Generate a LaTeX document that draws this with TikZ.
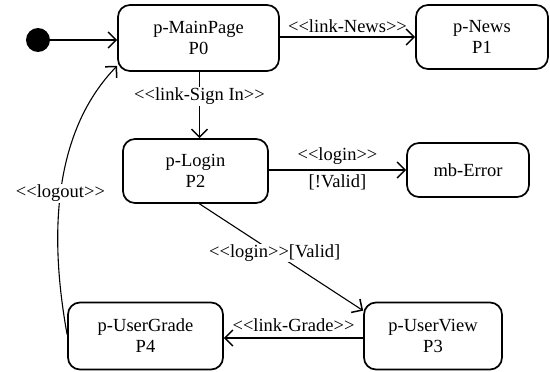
\documentclass[tikz,border=0pt]{standalone}
\usepackage{fontspec}
\setmainfont{Liberation Serif}[Ligatures=TeXOff]
\usetikzlibrary{arrows.meta,calc}
\begin{document}
\begin{tikzpicture}[x=1pt,y=-1pt,
  font=\fontsize{18.5}{21}\selectfont,
  state/.style={draw,line width=1.7pt,rounded corners=12pt,align=center,inner sep=0pt},
  conn/.style={line width=1.4pt,-{Straight Barb[length=8pt,width=16pt,line width=1.5pt]}},
  thinconn/.style={line width=1.1pt,-{Straight Barb[length=8pt,width=16pt,line width=1.5pt]}},
  lbl/.style={fill=white,inner sep=1pt}]
\useasboundingbox (0,0) rectangle (550,372);
\node[circle,fill=black,minimum size=24pt,inner sep=0pt] (dot) at (38,40) {};
\node[state,minimum width=161pt,minimum height=66pt] (p0) at (198.5,38) {p-MainPage\\P0};
\node[state,minimum width=132pt,minimum height=64pt] (p1) at (482,37) {p-News\\P1};
\node[state,minimum width=145pt,minimum height=64pt] (p2) at (195.5,171) {p-Login\\P2};
\node[state,minimum width=122pt,minimum height=54pt] (err) at (468,170) {mb-Error};
\node[state,minimum width=155pt,minimum height=67pt] (p4) at (145.5,336) {p-UserGrade\\P4};
\node[state,minimum width=138pt,minimum height=67pt] (p3) at (433,336) {p-UserView\\P3};

\draw[conn] (dot) -- (dot -| p0.west);
\draw[conn] (p0.east |- p1) -- (p1.west)
  node[midway,above=0pt] {<<link-News>>};
\draw[conn] ([xshift=1pt]p0.south) -- ([xshift=4pt]p2.north)
  node[lbl,pos=0.37] {<<link-Sign In>>};
\draw[conn] (p2.east |- err) -- (err.west)
  node[midway,above=1pt] {<<login>>}
  node[midway,below=1pt] {[!Valid]};
\draw[thinconn] ([xshift=4pt]p2.south) -- ($(p3.north west)+(0,9)$)
  node[lbl,pos=0.46] {<<login>>[Valid]};
\draw[conn] (p3.west |- 0,338) -- (p4.east |- 0,338)
  node[midway,above=2pt] {<<link-Grade>>};
\draw[thinconn] ($(p4.north west)+(0,33)$) .. controls (48,230) and (55,130) .. ($(p0.south west)+(0,-6)$)
  node[lbl,pos=0.47] {<<logout>>};
\end{tikzpicture}
\end{document}
